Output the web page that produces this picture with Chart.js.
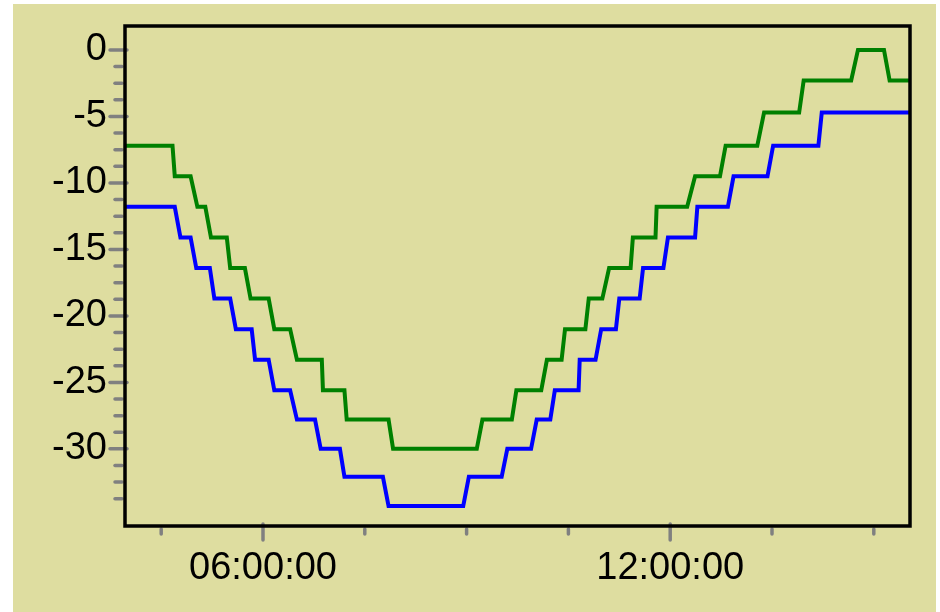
<!DOCTYPE html>
<html>
<head>
<meta charset="utf-8">
<title>Temperature</title>
<script src="https://cdn.jsdelivr.net/npm/chart.js@4.4.1/dist/chart.umd.min.js"></script>
<style>
  html, body { margin: 0; padding: 0; background: #ffffff; }
  canvas { display: block; }
</style>
</head>
<body>
<canvas id="chart" width="940" height="612"></canvas>
<script>
// === Data: corners of each stepped trace (time of day, value) ===
const greenTimes = [
    '03:58', '04:40', '04:42', '04:56', '05:02', '05:09', '05:14', '05:28',
    '05:31', '05:44', '05:49', '06:05', '06:10', '06:24', '06:30', '06:52',
    '06:53', '07:12', '07:14', '07:51', '07:55', '09:09', '09:14', '09:40',
    '09:44', '10:06', '10:11', '10:24', '10:27', '10:45', '10:48', '11:00',
    '11:06', '11:25', '11:27', '11:47', '11:48', '12:15', '12:22', '12:44',
    '12:49', '13:17', '13:23', '13:54', '13:58', '14:40', '14:46', '15:09',
    '15:14', '15:32'
];
const greenValues = [
    -7.2, -7.2, -9.5, -9.5, -11.8, -11.8, -14.1, -14.1,
    -16.4, -16.4, -18.7, -18.7, -21.0, -21.0, -23.3, -23.3,
    -25.6, -25.6, -27.8, -27.8, -30.0, -30.0, -27.8, -27.8,
    -25.6, -25.6, -23.3, -23.3, -21.0, -21.0, -18.7, -18.7,
    -16.4, -16.4, -14.1, -14.1, -11.8, -11.8, -9.5, -9.5,
    -7.2, -7.2, -4.7, -4.7, -2.3, -2.3, 0, 0,
    -2.3, -2.3
];

const blueTimes = [
    '03:58', '04:42', '04:47', '04:56', '05:01', '05:13', '05:17', '05:31',
    '05:36', '05:50', '05:53', '06:05', '06:10', '06:24', '06:30', '06:46',
    '06:51', '07:08', '07:12', '07:46', '07:51', '08:57', '09:02', '09:31',
    '09:36', '09:57', '10:02', '10:14', '10:18', '10:39', '10:40', '10:54',
    '10:59', '11:12', '11:15', '11:33', '11:36', '11:54', '11:58', '12:22',
    '12:24', '12:51', '12:56', '13:26', '13:31', '14:11', '14:14', '15:32'
];
const blueValues = [
    -11.8, -11.8, -14.1, -14.1, -16.4, -16.4, -18.7, -18.7,
    -21.0, -21.0, -23.3, -23.3, -25.6, -25.6, -27.8, -27.8,
    -30.0, -30.0, -32.1, -32.1, -34.3, -34.3, -32.1, -32.1,
    -30.0, -30.0, -27.8, -27.8, -25.6, -25.6, -23.3, -23.3,
    -21.0, -21.0, -18.7, -18.7, -16.4, -16.4, -14.1, -14.1,
    -11.8, -11.8, -9.5, -9.5, -7.2, -7.2, -4.7, -4.7
];

// === Axes ===
const xStart = '03:58';
const xEnd = '15:32';
const xLabelTicks = ['06:00', '12:00'];
const xMinorTicks = ['04:30', '07:30', '09:00', '10:30', '13:30', '15:00'];

const yMin = -35.8;
const yMax = 1.8;
const yLabelTicks = [0, -5, -10, -15, -20, -25, -30];
const yMinorTicks = [
    -1.25, -2.5, -3.75, -6.25, -7.5, -8.75, -11.25, -12.5, -13.75,
    -16.25, -17.5, -18.75, -21.25, -22.5, -23.75, -26.25, -27.5, -28.75,
    -31.25, -32.5, -33.75
];

function toHours(hhmm) {
    const [h, m] = hhmm.split(':').map(Number);
    return h + m / 60;
}

function hoursLabel(v) {
    const h = Math.floor(v + 1e-6);
    const m = Math.round((v - h) * 60);
    return String(h).padStart(2, '0') + ':' + String(m).padStart(2, '0') + ':00';
}

function toPoints(times, values) {
    return times.map((t, i) => ({ x: toHours(t), y: values[i] }));
}

const labelFont = { family: '"Liberation Sans", Arial, sans-serif', size: 38 };

// background panel, tick marks and frame
const framePlugin = {
    id: 'frame',
    beforeDraw(chart) {
        const ctx = chart.ctx;
        ctx.save();
        ctx.fillStyle = '#ffffff';
        ctx.fillRect(0, 0, chart.width, chart.height);
        ctx.fillStyle = '#dedda0';
        ctx.fillRect(13, 4, chart.width - 17, chart.height - 4);
        ctx.restore();
    },
    afterDraw(chart) {
        const ctx = chart.ctx;
        const { left, right, top, bottom } = chart.chartArea;
        const xs = chart.scales.x;
        const ys = chart.scales.y;

        const seg = (x1, y1, x2, y2) => {
            ctx.beginPath();
            ctx.moveTo(x1, y1);
            ctx.lineTo(x2, y2);
            ctx.stroke();
        };

        ctx.save();
        ctx.strokeStyle = '#808080';
        ctx.lineWidth = 3.5;
        ctx.lineCap = 'round';

        yLabelTicks.forEach(v => {
            const p = ys.getPixelForValue(v);
            seg(left - 15, p, left + 2, p);
        });
        yMinorTicks.forEach(v => {
            const p = ys.getPixelForValue(v);
            seg(left - 10, p, left - 3, p);
        });
        xLabelTicks.forEach(t => {
            const p = xs.getPixelForValue(toHours(t));
            seg(p, bottom - 2, p, bottom + 14);
        });
        xMinorTicks.forEach(t => {
            const p = xs.getPixelForValue(toHours(t));
            seg(p, bottom + 3, p, bottom + 8);
        });

        ctx.strokeStyle = '#000000';
        ctx.lineWidth = 3.5;
        ctx.lineCap = 'butt';
        ctx.lineJoin = 'miter';
        ctx.strokeRect(left, top, right - left, bottom - top);
        ctx.restore();
    }
};

const ctx = document.getElementById('chart').getContext('2d');
const chart = new Chart(ctx, {
    type: 'line',
    data: {
        datasets: [
            {
                label: 'Green',
                data: toPoints(greenTimes, greenValues),
                borderColor: '#008000',
                borderWidth: 4,
                pointRadius: 0,
                tension: 0,
                fill: false
            },
            {
                label: 'Blue',
                data: toPoints(blueTimes, blueValues),
                borderColor: '#0000ff',
                borderWidth: 4,
                pointRadius: 0,
                tension: 0,
                fill: false
            }
        ]
    },
    options: {
        responsive: false,
        animation: false,
        devicePixelRatio: 1,
        layout: { padding: { left: 0, top: 26, right: 30, bottom: 0 } },
        plugins: {
            legend: { display: false },
            tooltip: { enabled: false }
        },
        scales: {
            x: {
                type: 'linear',
                min: toHours(xStart),
                max: toHours(xEnd),
                grid: { display: false, drawTicks: false },
                border: { display: false },
                afterBuildTicks: s => {
                    s.ticks = xLabelTicks.map(t => ({ value: toHours(t) }));
                },
                afterFit: s => {
                    s.height = 86;
                    s.paddingLeft = 0;
                    s.paddingRight = 0;
                },
                ticks: {
                    autoSkip: false,
                    maxRotation: 0,
                    padding: 20,
                    color: '#000000',
                    font: labelFont,
                    callback: v => hoursLabel(v)
                }
            },
            y: {
                type: 'linear',
                min: yMin,
                max: yMax,
                grid: { display: false, drawTicks: false },
                border: { display: false },
                afterBuildTicks: s => {
                    s.ticks = yLabelTicks.map(v => ({ value: v }));
                },
                afterFit: s => {
                    s.width = 125;
                    s.paddingTop = 0;
                    s.paddingBottom = 0;
                },
                ticks: {
                    autoSkip: false,
                    padding: 18,
                    color: '#000000',
                    font: labelFont,
                    callback: v => String(v)
                }
            }
        }
    },
    plugins: [framePlugin]
});
</script>
</body>
</html>
